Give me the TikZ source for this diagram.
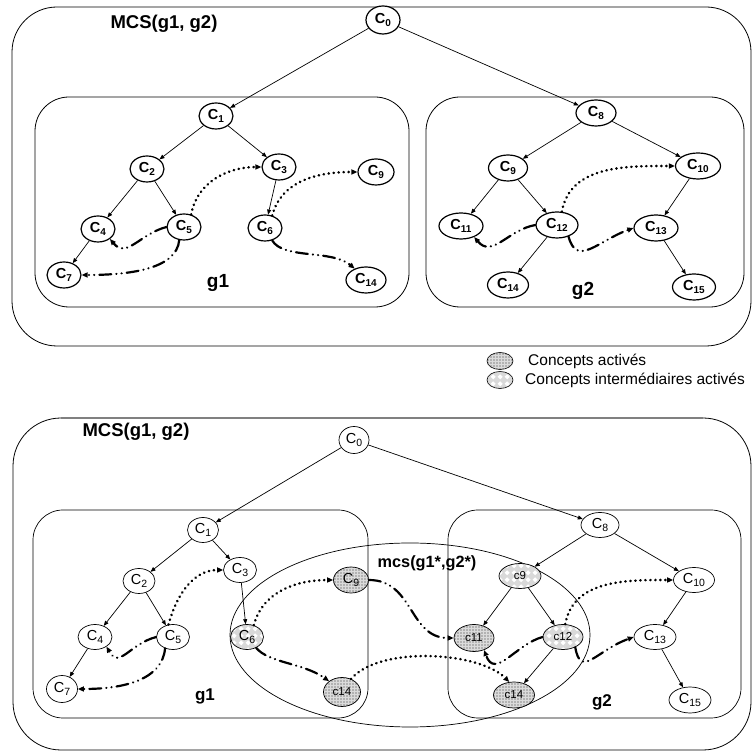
\documentclass[tikz,border=0pt]{standalone}
\usepackage{fontspec}
\setmainfont{Liberation Sans}
\usetikzlibrary{arrows.meta,shapes.geometric,patterns,patterns.meta}

\tikzdeclarepattern{
  name=diamlat,
  type=uncolored,
  bounding box={(0pt,0pt) and (7pt,7pt)},
  tile size={(7pt,7pt)},
  code={\fill (3.5pt,0.7pt) -- (6.3pt,3.5pt) -- (3.5pt,6.3pt) -- (0.7pt,3.5pt) -- cycle;}
}

\newcommand\ctop[1]{{\fontsize{14.5}{14}\selectfont\bfseries C\raisebox{-3.5pt}{\fontsize{10}{10}\selectfont\bfseries #1}}}
\newcommand\cbot[1]{{\fontsize{14.5}{14}\selectfont C\raisebox{-3.5pt}{\fontsize{10.5}{10.5}\selectfont #1}}}
\newcommand\csml[1]{{\fontsize{11.5}{12}\selectfont c#1}}

\tikzset{
  tn/.style={ellipse, draw, line width=1.2pt, inner sep=0pt, minimum width=34pt, minimum height=26pt, fill=white},
  bn/.style={ellipse, draw, line width=0.7pt, inner sep=0pt, minimum width=33pt, minimum height=25pt, fill=white},
  act/.style={preaction={fill=gray!60}, pattern=grid, pattern color=gray!28},
  inter/.style={preaction={fill=gray!30}, pattern=diamlat, pattern color=white},
  edge/.style={-{Triangle[length=5pt,width=4pt]}, line width=0.7pt},
  dotarr/.style={line width=2.6pt, line cap=round, dash pattern=on 0.3pt off 4.7pt, -{Triangle[length=6pt,width=5pt]}},
  dda/.style={line width=2.2pt, line cap=round, dash pattern=on 12pt off 5pt on 0.2pt off 5pt on 0.2pt off 5pt, -{Triangle[length=6pt,width=5pt]}},
  box/.style={draw, line width=0.8pt},
  lbl/.style={inner sep=0pt, font=\bfseries}
}

\begin{document}
\begin{tikzpicture}[x=1pt,y=1pt]
\useasboundingbox (0,0) rectangle (752,751);

% ================= TOP PANEL =================
\draw[box, rounded corners=45pt] (12,405) rectangle (751,744);
\draw[box, rounded corners=34pt] (35,444) rectangle (409,654);
\draw[box, rounded corners=34pt] (426,444) rectangle (744,654);
\node[lbl, font=\fontsize{18.5}{19}\selectfont\bfseries] (t1) at (164,727) {MCS(g1, g2)};
\node[lbl, font=\fontsize{19}{19}\selectfont\bfseries] (g1t) at (218,468) {g1};
\node[lbl, font=\fontsize{19}{19}\selectfont\bfseries] (g2t) at (583,460) {g2};

\node[tn, minimum height=28pt] (a0) at (383,731) {\ctop{0}};
\node[tn] (a1) at (216,635) {\ctop{1}};
\node[tn] (a2) at (147,582) {\ctop{2}};
\node[tn] (a3) at (279,584) {\ctop{3}};
\node[tn] (a4) at (98,522) {\ctop{4}};
\node[tn] (a5) at (184,524) {\ctop{5}};
\node[tn] (a6) at (265,523) {\ctop{6}};
\node[tn] (a7) at (64,476) {\ctop{7}};
\node[tn, minimum width=36pt] (a9l) at (376,579) {\ctop{9}};
\node[tn, minimum width=40pt] (a14l) at (366,471) {\ctop{14}};
\node[tn, minimum width=40pt] (a8) at (596,638) {\ctop{8}};
\node[tn, minimum width=39pt] (a9) at (508,583) {\ctop{9}};
\node[tn, minimum width=45pt] (a10) at (698,585) {\ctop{10}};
\node[tn, minimum width=44pt] (a11) at (461,525) {\ctop{11}};
\node[tn, minimum width=42pt] (a12) at (557,526) {\ctop{12}};
\node[tn, minimum width=44pt] (a13) at (656,523) {\ctop{13}};
\node[tn, minimum width=41pt] (a14) at (508,466) {\ctop{14}};
\node[tn, minimum width=43pt] (a15) at (694,464) {\ctop{15}};

\draw[edge] (a0) -- (a1);
\draw[edge] (a0) -- (a8);
\draw[edge] (a1) -- (a2);
\draw[edge] (a1) -- (a3);
\draw[edge] (a2) -- (a4);
\draw[edge] (a2) -- (a5);
\draw[edge] (a3) -- (a6);
\draw[edge] (a4) -- (a7);
\draw[edge] (a8) -- (a9);
\draw[edge] (a8) -- (a10);
\draw[edge] (a9) -- (a11);
\draw[edge] (a9) -- (a12);
\draw[edge] (a10) -- (a13);
\draw[edge] (a12) -- (a14);
\draw[edge] (a13) -- (a15);

\draw[dotarr] (a5.60) to[out=80,in=180] (a3.west);
\draw[dotarr] (a6.60) to[out=75,in=180] (a9l.west);
\draw[dotarr] (a12.70) to[out=80,in=180] (a10.west);
\draw[dda] (a5.west) .. controls +(195:28) and +(-50:26) .. (a4.-40);
\draw[dda] (a5.250) .. controls +(-95:30) and +(0:45) .. (a7.east);
\draw[dda] (a6.-60) .. controls +(-60:22) and +(140:30) .. (a14l.135);
\draw[dda] (a12.west) .. controls +(190:28) and +(-50:28) .. (a11.-40);
\draw[dda] (a12.-45) .. controls +(-75:32) and +(200:38) .. (a13.west);

% ================= LEGEND =================
\node[ellipse, draw, line width=0.6pt, inner sep=0pt, minimum width=26pt, minimum height=17pt, act] (l1) at (500,390) {};
\node[ellipse, draw, line width=0.6pt, inner sep=0pt, minimum width=26pt, minimum height=17pt, inter] (l2) at (500,371) {};
\node[anchor=west, inner sep=0pt, font=\fontsize{15.5}{16}\selectfont] (lt1) at (528,390) {Concepts activés};
\node[anchor=west, inner sep=0pt, font=\fontsize{15.5}{16}\selectfont] (lt2) at (525,371) {Concepts intermédiaires activés};

% ================= BOTTOM PANEL =================
\draw[box, rounded corners=48pt] (13,1) rectangle (751,333);
\draw[gray, line width=1.6pt] (61,333) -- (703,333);
\draw[box, line width=0.7pt, rounded corners=30pt] (33,33) rectangle (368,241);
\draw[box, line width=0.7pt, rounded corners=30pt] (448,33) rectangle (741,241);
\draw[line width=0.7pt] (410,116) ellipse [x radius=180, y radius=92];
\node[lbl, font=\fontsize{18.5}{19}\selectfont\bfseries] (t2) at (136,319) {MCS(g1, g2)};
\node[lbl, font=\fontsize{16.3}{17}\selectfont\bfseries] (mcs) at (427,188) {mcs(g1*,g2*)};
\node[lbl, font=\fontsize{17}{17}\selectfont\bfseries] (g1b) at (205,55) {g1};
\node[lbl, font=\fontsize{17}{17}\selectfont\bfseries] (g2b) at (602,49) {g2};

\node[bn, minimum width=30pt, minimum height=27pt] (b0) at (354,311) {\cbot{0}};
\node[bn, minimum width=31pt] (b1) at (203,221) {\cbot{1}};
\node[bn, minimum width=32pt] (b2) at (139,170) {\cbot{2}};
\node[bn] (b3) at (240,181) {\cbot{3}};
\node[bn, minimum width=34pt] (b4) at (95,114) {\cbot{4}};
\node[bn] (b5) at (173,114) {\cbot{5}};
\node[bn, inter] (b6) at (247,114) {\cbot{6}};
\node[bn, minimum width=31pt, minimum height=27pt] (b7) at (62,62) {\cbot{7}};
\node[bn, minimum width=35pt, minimum height=26pt, act] (b9l) at (351,171) {\cbot{9}};
\node[bn, minimum width=37pt, minimum height=29pt, act] (b14l) at (342,59) {\csml{14}};
\node[bn, minimum width=38pt] (b8) at (600,226) {\cbot{8}};
\node[bn, minimum width=42pt, inter] (b9) at (520,175) {\csml{9}};
\node[bn, minimum width=41pt] (b10) at (694,171) {\cbot{10}};
\node[bn, minimum width=40pt, minimum height=27pt, act] (b11) at (474,113) {\csml{11}};
\node[bn, minimum width=40pt, inter] (b12) at (563,114) {\csml{12}};
\node[bn, minimum width=42pt] (b13) at (655,114) {\cbot{13}};
\node[bn, minimum width=41pt, minimum height=26pt, act] (b14) at (514,56) {\csml{14}};
\node[bn, minimum width=42pt, minimum height=26pt] (b15) at (690,51) {\cbot{15}};

\draw[edge] (b0) -- (b1);
\draw[edge] (b0) -- (b8);
\draw[edge] (b1) -- (b2);
\draw[edge] (b1) -- (b3);
\draw[edge] (b2) -- (b4);
\draw[edge] (b2) -- (b5);
\draw[edge] (b3) -- (b6);
\draw[edge] (b4) -- (b7);
\draw[edge] (b8) -- (b9);
\draw[edge] (b8) -- (b10);
\draw[edge] (b9) -- (b11);
\draw[edge] (b9) -- (b12);
\draw[edge] (b10) -- (b13);
\draw[edge] (b12) -- (b14);
\draw[edge] (b13) -- (b15);

\draw[dotarr] (b5.110) to[out=75,in=180] (b3.west);
\draw[dotarr] (b6.60) to[out=75,in=180] (b9l.west);
\draw[dotarr] (b12.80) to[out=80,in=180] (b10.west);
\draw[dotarr] (b14l.55) to[out=50,in=135,looseness=0.7] (b14.110);
\draw[dda] (b5.west) .. controls +(195:28) and +(-60:26) .. (b4.-40);
\draw[dda] (b5.235) .. controls +(-95:32) and +(0:45) .. (b7.east);
\draw[dda] (b6.-50) .. controls +(-50:20) and +(145:32) .. (b14l.140);
\draw[dda] (b9l.east) .. controls +(0:45) and +(180:45) .. (b11.west);
\draw[dda] (b12.west) .. controls +(195:28) and +(-70:32) .. (b11.-50);
\draw[dda] (b12.-40) .. controls +(-80:32) and +(200:40) .. (b13.west);
\end{tikzpicture}
\end{document}
